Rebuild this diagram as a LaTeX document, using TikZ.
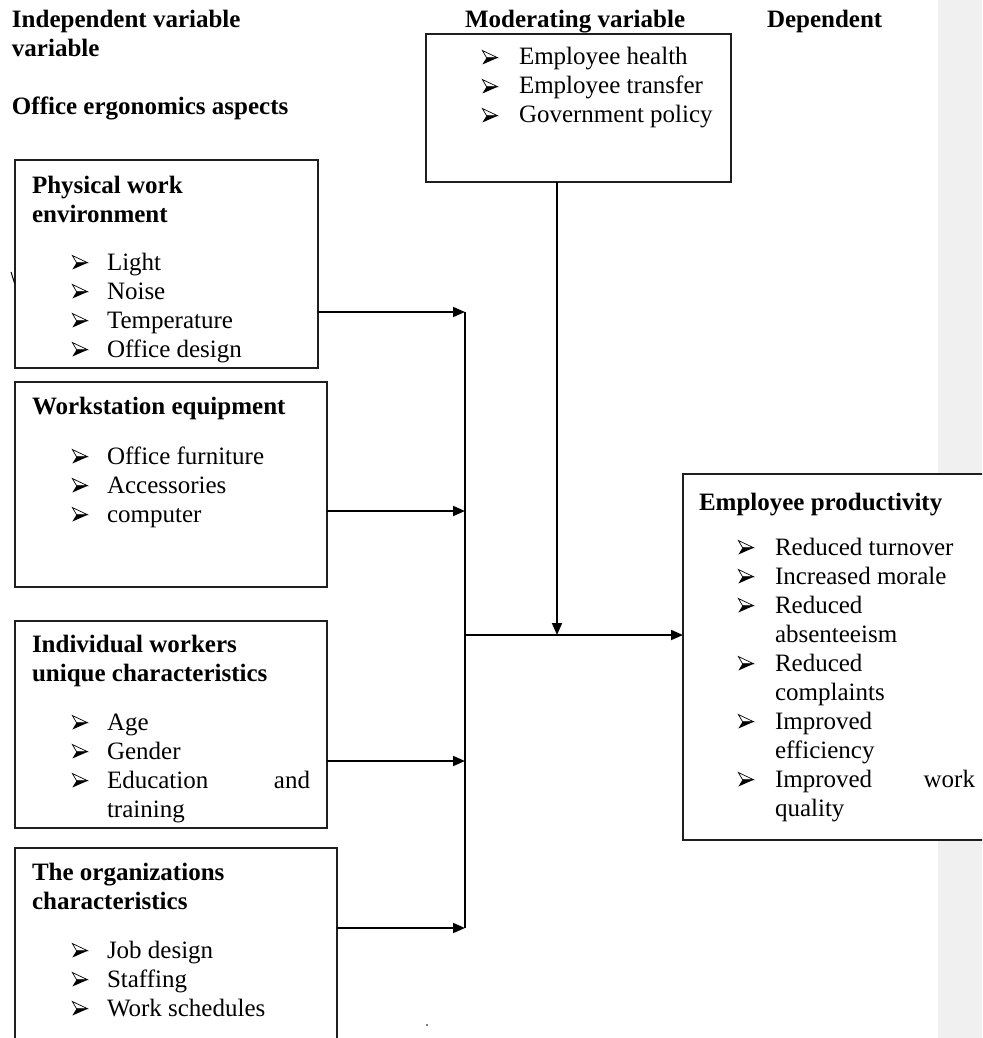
\documentclass[tikz,border=0pt]{standalone}
\usepackage{fontspec}
\setmainfont{Liberation Serif}
\usetikzlibrary{arrows.meta}
\newsavebox{\bulbox}
\newcommand{\bulglyph}{\usebox{\bulbox}}
\newcommand{\bul}{\makebox[35pt][l]{\bulglyph}}
\newcommand{\bulw}{\makebox[37pt][l]{\bulglyph}}
\newcommand{\ind}{\hspace*{40pt}}
\newcommand{\txtblock}[1]{\parbox[t]{420pt}{\fontsize{25}{29}\selectfont\lineskiplimit=-100pt\lineskip=0pt #1}}
\begin{document}
\sbox{\bulbox}{\begin{pgfpicture}%
  \pgfsetbaseline{0pt}%
  \pgfsetlinewidth{0.7pt}\pgfsetmiterjoin
  \pgfpathmoveto{\pgfpoint{0.3pt}{14.5pt}}%
  \pgfpathlineto{\pgfpoint{15.5pt}{7.3pt}}%
  \pgfpathlineto{\pgfpoint{4.5pt}{7.3pt}}%
  \pgfpathclose
  \pgfusepath{stroke}%
  \pgfpathmoveto{\pgfpoint{4.5pt}{7.3pt}}%
  \pgfpathlineto{\pgfpoint{15.8pt}{7.3pt}}%
  \pgfpathlineto{\pgfpoint{0.3pt}{0.5pt}}%
  \pgfpathclose
  \pgfusepath{fill}%
\end{pgfpicture}}%
\begin{tikzpicture}[x=1pt,y=-1pt,
  box/.style={draw=black!88, line width=1.5pt, fill=white, inner sep=0pt, outer sep=0pt, anchor=north west},
  txt/.style={anchor=base west, inner sep=0pt, outer sep=0pt},
  conn/.style={line width=1.8pt, draw=black},
  arr/.style={conn, -{Triangle[length=12pt,width=10pt]}}]
\useasboundingbox (0,0) rectangle (982,1038);
\clip (0,0) rectangle (982,1038);
% side margin strip
\fill[black!6] (938,0) rectangle (982,1038);

% headings
\node[txt] (hind) at (12,28) {\txtblock{\textbf{Independent variable}\\\textbf{variable}}};
\node[txt] (hoff) at (12,115) {\txtblock{\textbf{Office ergonomics aspects}}};
\node[txt] (hmod) at (465,28) {\txtblock{\textbf{Moderating variable}}};
\node[txt] (hdep) at (767,28) {\txtblock{\textbf{Dependent}}};

% boxes
\node[box, minimum width=305pt, minimum height=148pt] (mod) at (426,34) {};
\node[box, minimum width=303pt, minimum height=208pt] (pwe) at (15,160) {};
\node[box, minimum width=312pt, minimum height=205pt] (wse) at (15,382) {};
\node[box, minimum width=312pt, minimum height=207pt] (iwc) at (15,621) {};
\node[box, minimum width=322pt, minimum height=220pt] (orc) at (15,848) {};
\node[box, minimum width=330pt, minimum height=366pt] (dv) at (683,474) {};

% stray marks
\draw[line width=1pt] (11,272) -- (14.5,283);
\fill (427,1025) circle (0.9);

% box texts
\node[txt] (modt) at (482,65) {\txtblock{%
\bulw Employee health\\
\bulw Employee transfer\\
\bulw Government policy}};

\node[txt] (pwet) at (32,193) {\txtblock{%
\textbf{Physical work}\\
\textbf{environment}\\[19pt]
\ind\bul Light\\
\ind\bul Noise\\
\ind\bul Temperature\\
\ind\bul Office design}};

\node[txt] (wset) at (32,414) {\txtblock{%
\textbf{Workstation equipment}\\[21pt]
\ind\bul Office furniture\\
\ind\bul Accessories\\
\ind\bul computer}};

\node[txt] (iwct) at (32,652) {\txtblock{%
\textbf{Individual workers}\\
\textbf{unique characteristics}\\[20pt]
\ind\bul Age\\
\ind\bul Gender\\
\ind\bul\makebox[203pt][s]{Education\hfill and}\\
\ind\hspace*{35pt}training}};

\node[txt] (orct) at (32,880) {\txtblock{%
\textbf{The organizations}\\
\textbf{characteristics}\\[20pt]
\ind\bul Job design\\
\ind\bul Staffing\\
\ind\bul Work schedules}};

\node[txt] (dvt) at (699,510) {\txtblock{%
\textbf{Employee productivity}\\[16pt]
\hspace*{39pt}\bulw Reduced turnover\\
\hspace*{39pt}\bulw Increased morale\\
\hspace*{39pt}\bulw Reduced\\
\hspace*{76pt}absenteeism\\
\hspace*{39pt}\bulw Reduced\\
\hspace*{76pt}complaints\\
\hspace*{39pt}\bulw Improved\\
\hspace*{76pt}efficiency\\
\hspace*{39pt}\bulw\makebox[200pt][s]{Improved\hfill work}\\
\hspace*{76pt}quality}};

% junction points
\coordinate (j1) at (465,312);
\coordinate (j2) at (465,511);
\coordinate (j3) at (465,761);
\coordinate (j4) at (465,928);
\coordinate (jc) at (465,635);
\coordinate (jm) at (557,635);

% connectors
\draw[conn] (j1) -- (j4);
\draw[arr] (pwe.east |- j1) -- (j1);
\draw[arr] (wse.east |- j2) -- (j2);
\draw[arr] (iwc.east |- j3) -- (j3);
\draw[arr] (orc.east |- j4) -- (j4);
\draw[arr] (mod.south -| jm) -- (jm);
\draw[arr] (jc) -- (dv.west |- jc);
\end{tikzpicture}
\end{document}
